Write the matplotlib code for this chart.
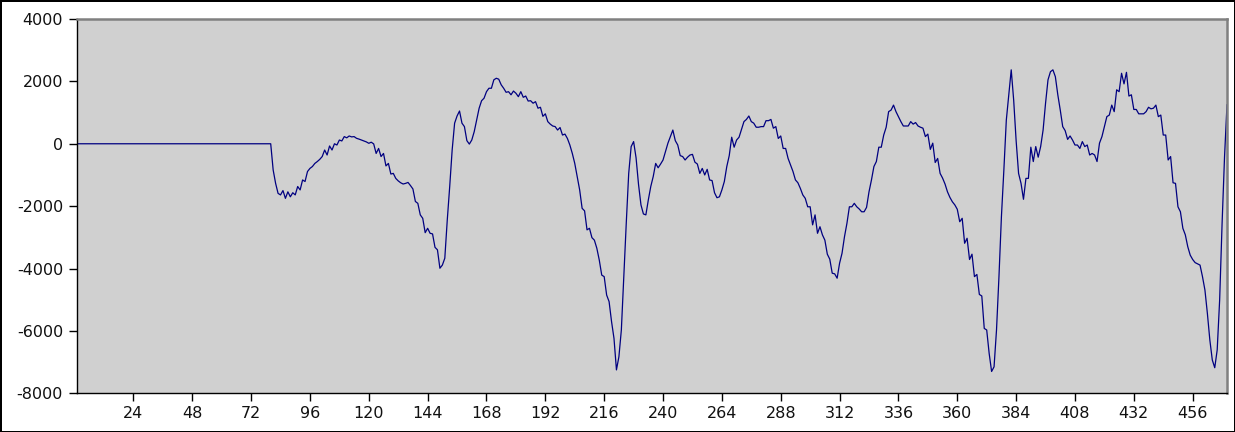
import numpy as np
import matplotlib
matplotlib.use("Agg")
import matplotlib.pyplot as plt

plt.rcParams["axes.unicode_minus"] = False

# Sample index and signal values
samples = np.arange(1, 471)
values = [
    0, 0, 0, 0, 0, 0, 0, 0, 0, 0,
    0, 0, 0, 0, 0, 0, 0, 0, 0, 0,
    0, 0, 0, 0, 0, 0, 0, 0, 0, 0,
    0, 0, 0, 0, 0, 0, 0, 0, 0, 0,
    0, 0, 0, 0, 0, 0, 0, 0, 0, 0,
    0, 0, 0, 0, 0, 0, 0, 0, 0, 0,
    0, 0, 0, 0, 0, 0, 0, 0, 0, 0,
    0, 0, 0, 0, 0, 0, 0, 0, 0, 0,
    -840, -1270, -1590, -1640, -1500, -1750, -1540, -1700, -1570, -1640,
    -1370, -1480, -1160, -1210, -890, -790, -730, -630, -570, -500,
    -410, -200, -360, -70, -200, 0, -40, 120, 90, 230,
    190, 250, 220, 230, 175, 150, 120, 90, 60, 15,
    50, -5, -310, -150, -410, -310, -710, -630, -970, -950,
    -1110, -1190, -1250, -1290, -1270, -1240, -1340, -1450, -1850, -1910,
    -2280, -2390, -2850, -2710, -2870, -2890, -3320, -3400, -3990, -3890,
    -3670, -2450, -1370, -200, 660, 890, 1050, 660, 550, 100,
    -10, 120, 390, 760, 1140, 1380, 1460, 1670, 1780, 1780,
    2050, 2100, 2070, 1890, 1780, 1650, 1670, 1570, 1690, 1620,
    1510, 1670, 1490, 1530, 1370, 1380, 1300, 1350, 1140, 1170,
    880, 960, 710, 630, 570, 550, 440, 520, 280, 310,
    170, -40, -310, -630, -1050, -1480, -2070, -2150, -2760, -2710,
    -3010, -3090, -3350, -3730, -4210, -4260, -4850, -5060, -5700, -6240,
    -7250, -6830, -5970, -4260, -2550, -950, -90, 70, -450, -1300,
    -1960, -2250, -2280, -1800, -1370, -1050, -630, -770, -650, -520,
    -250, 20, 230, 440, 100, -40, -380, -410, -520, -430,
    -360, -340, -590, -650, -950, -790, -1000, -820, -1160, -1180,
    -1570, -1730, -1700, -1480, -1210, -730, -380, 210, -110, 120,
    210, 460, 710, 780, 890, 710, 660, 530, 530, 550,
    550, 740, 740, 780, 500, 550, 170, 250, -150, -150,
    -470, -680, -890, -1160, -1250, -1430, -1640, -1750, -2020, -2020,
    -2600, -2280, -2870, -2660, -2920, -3090, -3540, -3700, -4150, -4170,
    -4310, -3830, -3510, -2980, -2550, -2020, -2020, -1910, -2020, -2090,
    -2180, -2180, -2040, -1540, -1160, -730, -570, -110, -110, 280,
    530, 1030, 1080, 1240, 1030, 870, 710, 570, 570, 570,
    710, 630, 680, 570, 530, 500, 230, 310, -180, 20,
    -600, -470, -950, -1100, -1290, -1540, -1720, -1860, -1960, -2100,
    -2500, -2390, -3190, -3030, -3710, -3540, -4260, -4190, -4830, -4880,
    -5920, -5970, -6720, -7300, -7150, -5970, -4260, -2340, -840, 760,
    1570, 2370, 1400, 100, -950, -1270, -1780, -1110, -1110, -110,
    -570, -90, -430, -90, 440, 1300, 2050, 2310, 2370, 2150,
    1570, 1080, 550, 420, 140, 250, 120, -40, -40, -150,
    70, -90, -40, -360, -310, -360, -570, 20, 230, 550,
    870, 920, 1240, 1030, 1730, 1670, 2260, 1920, 2290, 1530,
    1570, 1100, 1100, 960, 960, 960, 1030, 1170, 1120, 1140,
    1240, 870, 920, 280, 280, -520, -410, -1250, -1270, -2020,
    -2180, -2710, -2920, -3300, -3570, -3710, -3810, -3850, -3890, -4260,
    -4690, -5440, -6290, -6930, -7180, -6610, -5010, -2550, -410, 1250,
]
x_ticks = list(range(24, 457, 24))
y_ticks = list(range(-8000, 4001, 2000))

# Figure with a thin black frame
fig = plt.figure(figsize=(12.35, 4.32), dpi=100)
fig.patch.set_edgecolor("black")
fig.patch.set_linewidth(1)
ax = fig.add_axes([77 / 1235, (432 - 393.3) / 432, 1150 / 1235, 374.3 / 432])
ax.set_facecolor("#d0d0d0")

ax.plot(samples, values, color="#000080", linewidth=0.9)

ax.set_xlim(1, 470)
ax.set_ylim(-8000, 4000)
ax.set_xticks(x_ticks)
ax.set_yticks(y_ticks)
ax.tick_params(axis="both", direction="out", length=6, width=1,
               labelsize=11.5, colors="black", labelcolor="#111111")
ax.tick_params(axis="y", pad=4)
ax.tick_params(axis="x", pad=3)

for side in ["top", "right"]:
    ax.spines[side].set_color("#808080")
    ax.spines[side].set_linewidth(1.8)
for side in ["left", "bottom"]:
    ax.spines[side].set_color("black")
    ax.spines[side].set_linewidth(1)

fig.savefig("out.png", dpi=100)
